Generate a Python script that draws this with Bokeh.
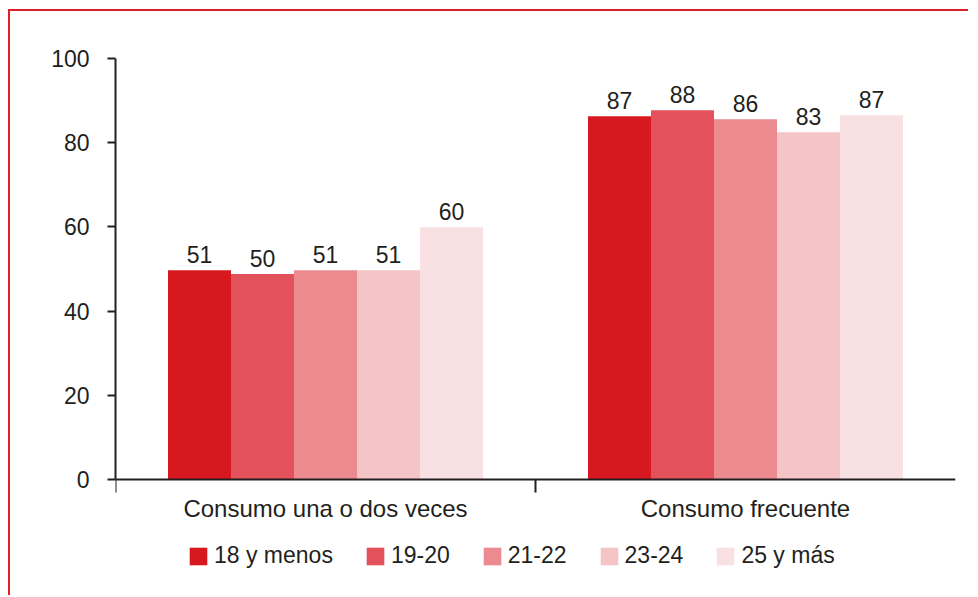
from bokeh.plotting import figure
from bokeh.models import Range1d, FixedTicker, ColumnDataSource, Legend, LegendItem
from bokeh.core.properties import value
from bokeh.embed import file_html
from bokeh.resources import INLINE

categories = ["Consumo una o dos veces", "Consumo frecuente"]
age_groups = ["18 y menos", "19-20", "21-22", "23-24", "25 y más"]
una_o_dos = [49.7, 48.8, 49.7, 49.7, 59.9]
frecuente = [86.3, 87.7, 85.6, 82.5, 86.5]
una_o_dos_labels = ["51", "50", "51", "51", "60"]
frecuente_labels = ["87", "88", "86", "83", "87"]
colors = ["#d7181f", "#e3515a", "#eb8a8f", "#f5c4c6", "#f9e0e2"]
y_ticks = [0, 20, 40, 60, 80, 100]

FONT = "Liberation Sans"
FS = "23px"
TXT = "#231f20"

p = figure(width=960, height=586, output_backend="svg", toolbar_location=None,
           x_range=Range1d(0, 2), y_range=Range1d(-28, 100),
           min_border_left=105, min_border_right=15, min_border_top=47,
           min_border_bottom=0)
p.styles = {"border-top": "2px solid #e01f27", "border-left": "2px solid #e01f27",
            "margin-left": "8px", "margin-top": "9px"}
p.outline_line_color = None
p.xgrid.visible = False
p.ygrid.visible = False

bar_w = 0.15
items = []
for i, grp in enumerate(age_groups):
    xs = [g + 0.5 + (i - 2) * bar_w for g in range(len(categories))]
    src = ColumnDataSource(dict(x=xs, top=[una_o_dos[i], frecuente[i]],
                                label=[una_o_dos_labels[i], frecuente_labels[i]]))
    r = p.vbar(x="x", top="top", width=bar_w, bottom=0, fill_color=colors[i],
               line_color=None, source=src)
    p.text(x="x", y="top", text="label", source=src, text_align="center",
           text_baseline="bottom", y_offset=-7, text_font=value(FONT),
           text_font_size=FS, text_color=TXT)
    items.append(LegendItem(label=grp, renderers=[r]))

xa = p.xaxis[0]
xa.fixed_location = 0
xa.ticker = FixedTicker(ticks=[0.5, 1.5], minor_ticks=[0, 1])
xa.major_label_overrides = {0.5: categories[0], 1.5: categories[1]}
xa.major_tick_out = 0
xa.major_tick_in = 0
xa.minor_tick_out = 13
xa.minor_tick_in = 0
xa.minor_tick_line_color = TXT
xa.minor_tick_line_width = 2
xa.axis_line_color = TXT
xa.axis_line_width = 2
xa.major_label_standoff = 2
xa.major_label_text_font = FONT
xa.major_label_text_font_size = "24px"
xa.major_label_text_color = TXT

ya = p.yaxis[0]
ya.ticker = FixedTicker(ticks=y_ticks, minor_ticks=[])
ya.bounds = (0, 100)
ya.major_tick_out = 8
ya.major_tick_in = 0
ya.major_tick_line_color = TXT
ya.major_tick_line_width = 2
ya.axis_line_color = TXT
ya.axis_line_width = 2
ya.major_label_standoff = 18
ya.major_label_text_font = FONT
ya.major_label_text_font_size = FS
ya.major_label_text_color = TXT

legend = Legend(items=items, orientation="horizontal", location=(72, 28),
                glyph_width=22, glyph_height=22, label_height=22, label_standoff=5,
                spacing=31, padding=0, margin=0, border_line_alpha=0,
                background_fill_alpha=0, label_text_font=FONT,
                label_text_font_size=FS, label_text_color=TXT)
p.add_layout(legend, "center")

open("out.html", "w").write(file_html(p, INLINE))
